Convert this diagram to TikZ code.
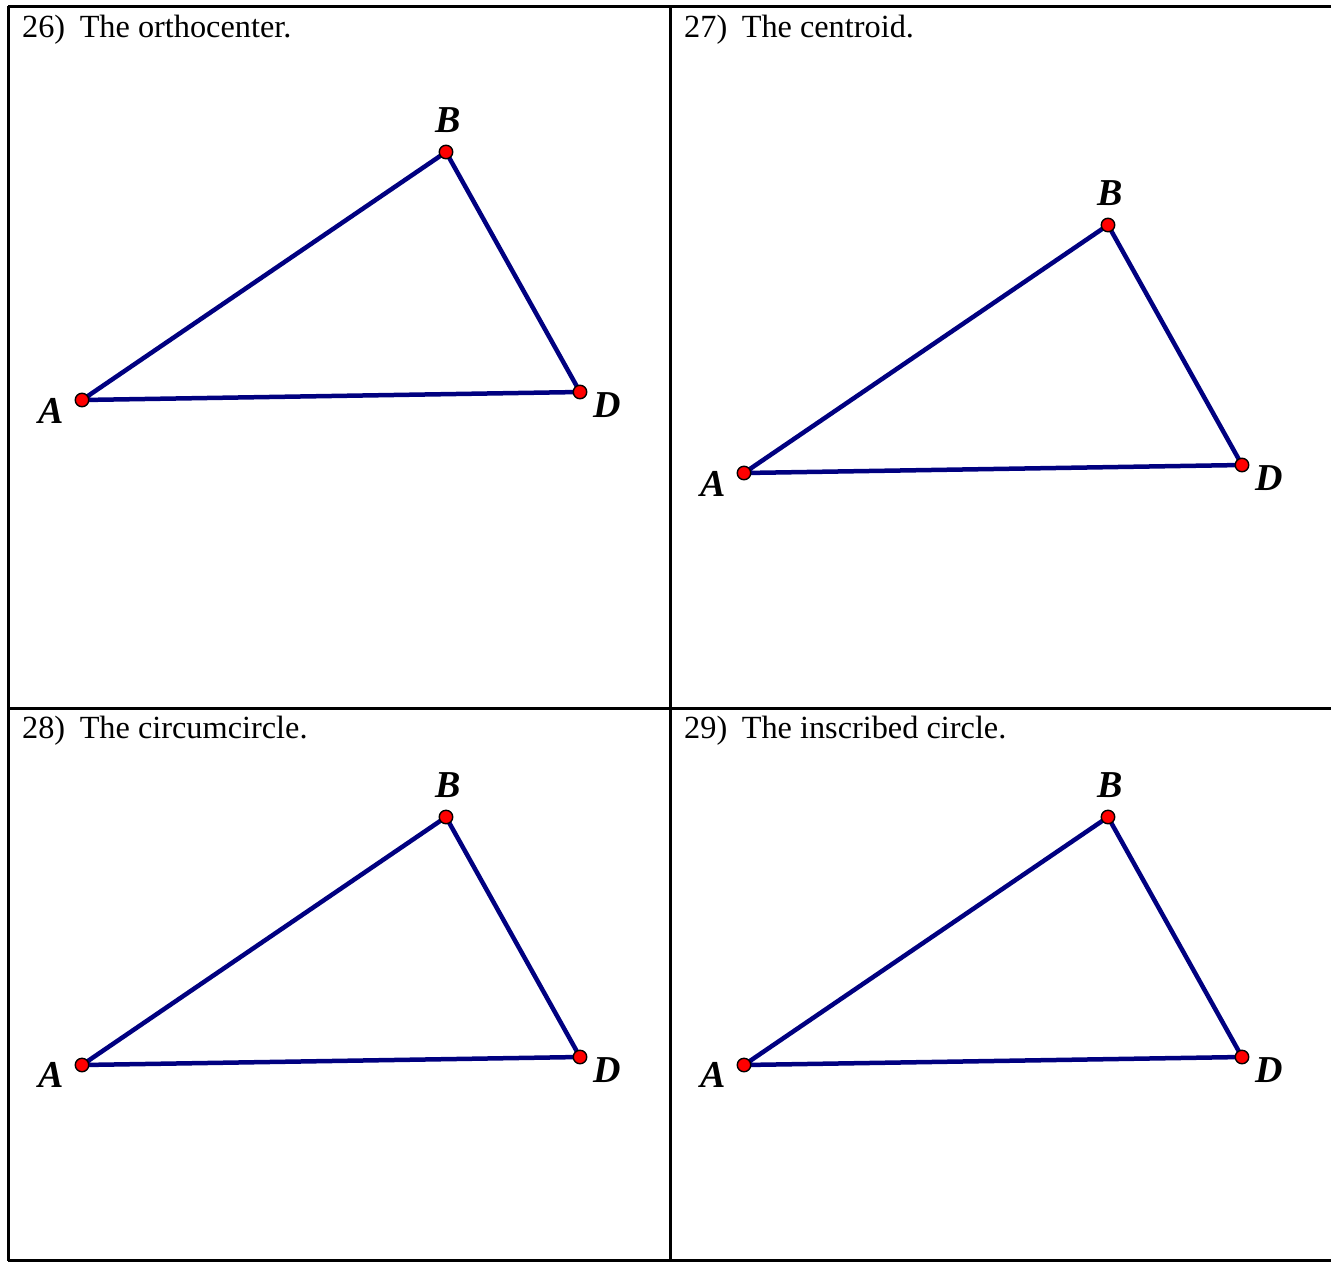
\documentclass[tikz,border=0pt]{standalone}
\usepackage{fontspec}
\setmainfont{Liberation Serif}

\definecolor{segblue}{RGB}{0,0,128}

\begin{document}
\begin{tikzpicture}[
    x=1pt, y=-1pt,
    % Estilos da folha de exercicios
    tableline/.style={line width=3pt, black},
    qtitle/.style={anchor=base west, inner sep=0pt, font=\fontsize{32.3}{38}\selectfont},
    seg/.style={line width=4.5pt, segblue, line join=round},
    vertex/.style={circle, draw=black, fill=red, line width=1.4pt, minimum size=13.5pt, inner sep=0pt},
    lbl/.style={inner sep=0pt, font=\fontsize{38}{42}\selectfont\bfseries\itshape}
]

    \useasboundingbox (0,0) rectangle (1331,1262);

    % ================= TABELA 2x2 =================
    \draw[tableline] (8,6) -- (1331,6);
    \draw[tableline] (8,708) -- (1331,708);
    \draw[tableline] (8,1260.5) -- (1331,1260.5);
    \draw[tableline] (8,6) -- (8,1261);
    \draw[tableline] (670,6) -- (670,1261);

    % ================= ENUNCIADOS =================
    \node[qtitle] (t26) at (22,37) {26)\hspace{0.45em}The orthocenter.};
    \node[qtitle] (t27) at (684,37) {27)\hspace{0.45em}The centroid.};
    \node[qtitle] (t28) at (22,738) {28)\hspace{0.45em}The circumcircle.};
    \node[qtitle] (t29) at (684,738) {29)\hspace{0.45em}The inscribed circle.};

    % ================= 26) ORTOCENTRO =================
    \coordinate (A1) at (82,400);
    \coordinate (B1) at (446,152);
    \coordinate (D1) at (580,392);
    \draw[seg] (A1) -- (B1) -- (D1) -- cycle;
    \node[vertex] (pA1) at (A1) {};
    \node[vertex] (pB1) at (B1) {};
    \node[vertex] (pD1) at (D1) {};
    \node[lbl] (lA1) at (51.5,411) {A};
    \node[lbl] (lB1) at (448,120) {B};
    \node[lbl] (lD1) at (607,405) {D};

    % ================= 27) BARICENTRO =================
    \coordinate (A2) at (744,473);
    \coordinate (B2) at (1108,225);
    \coordinate (D2) at (1242,465);
    \draw[seg] (A2) -- (B2) -- (D2) -- cycle;
    \node[vertex] (pA2) at (A2) {};
    \node[vertex] (pB2) at (B2) {};
    \node[vertex] (pD2) at (D2) {};
    \node[lbl] (lA2) at (713.5,484) {A};
    \node[lbl] (lB2) at (1110,193) {B};
    \node[lbl] (lD2) at (1269,478) {D};

    % ================= 28) CIRCUNFERENCIA CIRCUNSCRITA =================
    \coordinate (A3) at (82,1065);
    \coordinate (B3) at (446,817);
    \coordinate (D3) at (580,1057);
    \draw[seg] (A3) -- (B3) -- (D3) -- cycle;
    \node[vertex] (pA3) at (A3) {};
    \node[vertex] (pB3) at (B3) {};
    \node[vertex] (pD3) at (D3) {};
    \node[lbl] (lA3) at (51.5,1075) {A};
    \node[lbl] (lB3) at (448,785) {B};
    \node[lbl] (lD3) at (607,1070) {D};

    % ================= 29) CIRCUNFERENCIA INSCRITA =================
    \coordinate (A4) at (744,1065);
    \coordinate (B4) at (1108,817);
    \coordinate (D4) at (1242,1057);
    \draw[seg] (A4) -- (B4) -- (D4) -- cycle;
    \node[vertex] (pA4) at (A4) {};
    \node[vertex] (pB4) at (B4) {};
    \node[vertex] (pD4) at (D4) {};
    \node[lbl] (lA4) at (713.5,1075) {A};
    \node[lbl] (lB4) at (1110,785) {B};
    \node[lbl] (lD4) at (1269,1070) {D};

\end{tikzpicture}
\end{document}
